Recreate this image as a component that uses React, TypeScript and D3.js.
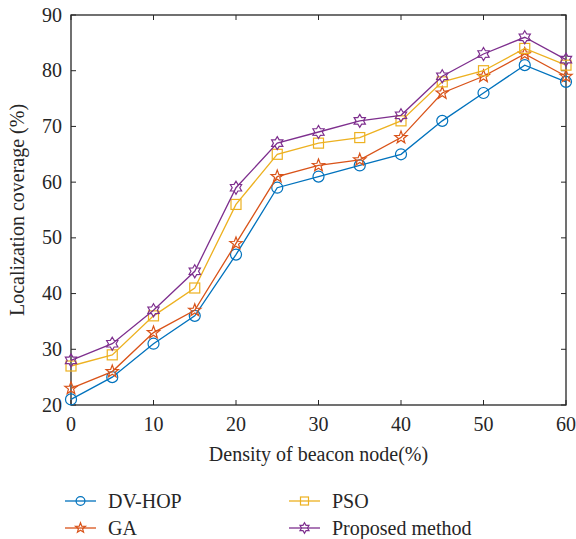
import React from "react";
import * as d3 from "d3";

const density = [0, 5, 10, 15, 20, 25, 30, 35, 40, 45, 50, 55, 60];
const dvHop = [21, 25, 31, 36, 47, 59, 61, 63, 65, 71, 76, 81, 78];
const ga = [23, 26, 33, 37, 49, 61, 63, 64, 68, 76, 79, 83, 79];
const pso = [27, 29, 36, 41, 56, 65, 67, 68, 71, 78, 80, 84, 81];
const proposed = [28, 31, 37, 44, 59, 67, 69, 71, 72, 79, 83, 86, 82];
const xTicks = [0, 10, 20, 30, 40, 50, 60];
const yTicks = [20, 30, 40, 50, 60, 70, 80, 90];

const series = [
  { name: "DV-HOP", values: dvHop, color: "#0072BD", marker: "circle" },
  { name: "GA", values: ga, color: "#D95319", marker: "pentagram" },
  { name: "PSO", values: pso, color: "#EDB120", marker: "square" },
  { name: "Proposed method", values: proposed, color: "#7E2F8E", marker: "hexagram" },
];

const W = 576, H = 539;
const left = 71, right = 566, top = 15, bottom = 405;
const font = "'Liberation Serif', 'Times New Roman', serif";
const fs = 20;

const starPath = (n: number, ro: number, ri: number) => {
  const pts: [number, number][] = [];
  for (let i = 0; i < n * 2; i++) {
    const r = i % 2 === 0 ? ro : ri;
    const a = -Math.PI / 2 + (i * Math.PI) / n;
    pts.push([r * Math.cos(a), r * Math.sin(a)]);
  }
  return d3.line()(pts) + "Z";
};

const Marker = ({ type, x, y, color, s = 1 }: { type: string; x: number; y: number; color: string; s?: number }) => {
  const common = { fill: "none", stroke: color, strokeWidth: 1.2 };
  if (type === "circle") return <circle cx={x} cy={y} r={5.5 * s} {...common} />;
  if (type === "square")
    return <rect x={x - 5 * s} y={y - 5 * s} width={10 * s} height={10 * s} {...common} />;
  if (type === "pentagram")
    return <path d={starPath(5, 6.5 * s, 2.7 * s)} transform={`translate(${x},${y})`} {...common} />;
  return <path d={starPath(6, 6.5 * s, 3.8 * s)} transform={`translate(${x},${y})`} {...common} />;
};

export default function App() {
  const x = d3.scaleLinear().domain([0, 60]).range([left, right]);
  const y = d3.scaleLinear().domain([20, 90]).range([bottom, top]);
  const line = d3
    .line<number>()
    .x((_, i) => x(density[i]))
    .y(d => y(d));

  const legendPos = [
    { lx: 65, ly: 501 },
    { lx: 65, ly: 528 },
    { lx: 289, ly: 501 },
    { lx: 289, ly: 528 },
  ];

  return (
    <svg width={W} height={H} style={{ position: "absolute", left: 0, top: 0 }} fontFamily={font}>
      <rect width={W} height={H} fill="white" />
      <g stroke="#262626" strokeWidth={1}>
        {xTicks.map(t => (
          <g key={"x" + t}>
            <line x1={x(t)} x2={x(t)} y1={bottom} y2={bottom - 5} />
            <line x1={x(t)} x2={x(t)} y1={top} y2={top + 5} />
          </g>
        ))}
        {yTicks.map(t => (
          <g key={"y" + t}>
            <line x1={left} x2={left + 5} y1={y(t)} y2={y(t)} />
            <line x1={right} x2={right - 5} y1={y(t)} y2={y(t)} />
          </g>
        ))}
        <rect x={left} y={top} width={right - left} height={bottom - top} fill="none" strokeWidth={1.3} />
      </g>
      {xTicks.map(t => (
        <text key={"xl" + t} x={x(t)} y={431} textAnchor="middle" fontSize={fs} fill="#262626">
          {t}
        </text>
      ))}
      {yTicks.map(t => (
        <text key={"yl" + t} x={62} y={y(t) + 6.5} textAnchor="end" fontSize={fs} fill="#262626">
          {t}
        </text>
      ))}
      <text x={(left + right) / 2} y={461} textAnchor="middle" fontSize={fs} fill="#262626">
        Density of beacon node(%)
      </text>
      <text
        transform={`translate(24,${(top + bottom) / 2}) rotate(-90)`}
        textAnchor="middle"
        fontSize={fs}
        fill="#262626"
      >
        Localization coverage (%)
      </text>
      {series.map(s => (
        <g key={s.name}>
          <path d={line(s.values) || ""} fill="none" stroke={s.color} strokeWidth={1.3} />
          {s.values.map((v, i) => (
            <Marker key={i} type={s.marker} x={x(density[i])} y={y(v)} color={s.color} />
          ))}
        </g>
      ))}
      {series.map((s, i) => {
        const { lx, ly } = legendPos[i];
        return (
          <g key={"lg" + s.name}>
            <line x1={lx} x2={lx + 31} y1={ly} y2={ly} stroke={s.color} strokeWidth={1.3} />
            <Marker type={s.marker} x={lx + 15.5} y={ly} color={s.color} s={0.8} />
            <text x={lx + 43} y={ly + 7} fontSize={fs} fill="#262626">
              {s.name}
            </text>
          </g>
        );
      })}
    </svg>
  );
}
